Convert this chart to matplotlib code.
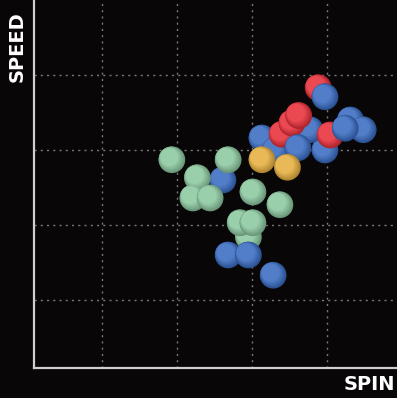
import matplotlib
matplotlib.use("Agg")
import matplotlib.pyplot as plt
import matplotlib.colors as mcolors
import numpy as np

# spin / speed values per group (grid lines at 1..4), depth = distance toward viewer
green_spin = [1.93, 2.68, 2.27, 2.21, 2.44, 3.01, 3.37, 2.84, 3.01, 2.95]
green_speed = [2.87, 2.87, 2.63, 2.36, 2.36, 2.44, 2.27, 2.03, 2.03, 1.84]
green_depth = [3, 3, 3, 3, 3.1, 3, 3, 3, 3.1, 2.9]

blue_spin = [3.97, 3.77, 4.31, 4.48, 4.24, 3.97, 3.61, 3.13, 3.31, 2.61, 2.68, 2.95, 3.28]
blue_speed = [3.71, 3.27, 3.40, 3.27, 3.29, 3.00, 3.03, 3.16, 3.00, 2.60, 1.60, 1.60, 1.33]
blue_depth = [2, 3, 2, 3, 5, 2, 5, 1, 3, 2, 3, 3.1, 3]

yellow_spin = [3.13, 3.47]
yellow_speed = [2.87, 2.77]
yellow_depth = [4, 6]

red_spin = [3.88, 3.62, 3.53, 3.40, 4.04]
red_speed = [3.83, 3.46, 3.36, 3.21, 3.20]
red_depth = [1, 5, 4.5, 3.5, 4]

groups = [
    (green_spin, green_speed, green_depth, "#8cc8a0"),
    (blue_spin, blue_speed, blue_depth, "#3a6cc2"),
    (yellow_spin, yellow_speed, yellow_depth, "#e6b040"),
    (red_spin, red_speed, red_depth, "#e8303a"),
]

bg = "#080606"
fig = plt.figure(figsize=(3.97, 3.98), dpi=100, facecolor=bg)
ax = fig.add_axes([34 / 397, 30 / 398, 1 - 34 / 397, 1 - 30 / 398])
ax.set_facecolor(bg)
ax.set_xlim(0.093, 4.93)
ax.set_ylim(0.093, 5.0)

ax.set_xticks([1, 2, 3, 4])
ax.set_yticks([1, 2, 3, 4])
ax.tick_params(length=0, labelbottom=False, labelleft=False)
ax.grid(True, color="#a0a0a0", linestyle=(0, (1.5, 3)), linewidth=1, alpha=0.75)
ax.set_axisbelow(True)

for s in ["top", "right"]:
    ax.spines[s].set_visible(False)
for s in ["left", "bottom"]:
    ax.spines[s].set_color("#cfcfcf")
    ax.spines[s].set_linewidth(1.6)

# shaded balls, each one drawn at its own depth
size = 370
for xs, ys, ds, col in groups:
    base = np.array(mcolors.to_rgb(col))
    for x, y, d in zip(xs, ys, ds):
        for k, f in enumerate(np.linspace(0, 1, 6)):
            c = base * (0.75 + 0.25 * f) + (1 - base) * 0.12 * f
            c = np.clip(c, 0, 1)
            s = size * (1 - 0.55 * f)
            off = 0.035 * f
            ax.scatter([x - off], [y + off], s=s, color=c, edgecolors="none",
                       zorder=3 + d + k * 0.01)

fig.text(17 / 397, 1 - 47 / 398, "SPEED", rotation=90, color="white",
         fontsize=14, fontweight="bold", ha="center", va="center")
fig.text(395 / 397, 1 - 384 / 398, "SPIN", color="white",
         fontsize=14, fontweight="bold", ha="right", va="center")

fig.savefig("out.png", dpi=100, facecolor=bg)
